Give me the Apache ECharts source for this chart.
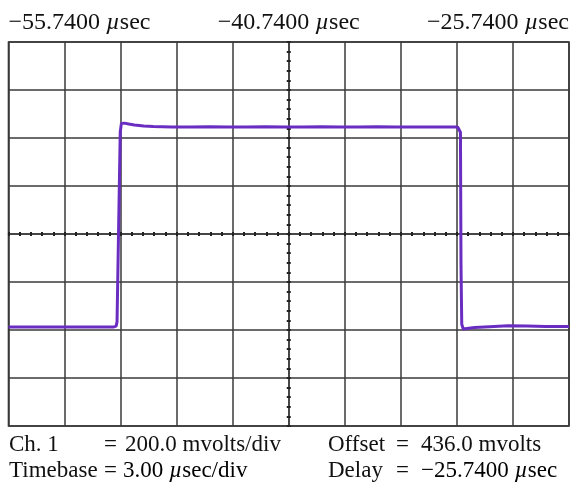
<!DOCTYPE html>
<html>
<head>
<meta charset="utf-8">
<script src="https://cdn.jsdelivr.net/npm/echarts@6/dist/echarts.min.js"></script>
<style>
html,body{margin:0;padding:0;background:#fff;}
#chart{width:573px;height:484px;}
</style>
</head>
<body>
<div id="chart"></div>
<script>
// Time (µs) and Ch. 1 voltage (mV)
var timeUs = [-55.74, -54.0, -52.0, -50.6, -50.1, -49.98, -49.93, -49.76, -49.70, -49.55, -49.3, -49.0, -48.5, -48.0, -47.0, -46.0, -45.0, -44.0, -43.0, -42.0, -41.0, -40.0, -39.0, -38.0, -37.0, -36.0, -35.0, -34.0, -33.0, -32.0, -31.7, -31.6, -31.55, -31.52, -31.48, -31.40, -31.2, -30.8, -30.0, -29.0, -28.0, -27.0, -26.0, -25.74];
var chMv   = [48, 48, 48, 48, 49, 52, 70, 860, 896, 898, 894, 890, 886, 884, 882, 882, 883, 882, 882, 883, 882, 882, 883, 882, 882, 883, 882, 882, 882, 882, 882, 880, 860, 300, 60, 40, 42, 46, 50, 54, 53, 51, 51, 51];

var xMin = -55.74, xMax = -25.74, xDiv = 3.0;       // 3.00 µsec/div
var yOffset = 436.0, yDiv = 200.0, yDivs = 4;       // 200 mV/div, offset 436 mV
var topTicks = [-55.74, -40.74, -25.74];

var serif = '"Liberation Serif", "DejaVu Serif", serif';
var fs = 24, fsB = 23;
var txtCol = '#111';
function mkRich(size){
  return {
    n: {fontFamily: serif, fontSize: size, color: txtCol},
    m: {fontFamily: serif, fontSize: size, color: txtCol, fontStyle: 'italic'}
  };
}
var rich = mkRich(fs), richB = mkRich(fsB);
function usec(v){
  var s = (v < 0 ? '\u2212' : '') + Math.abs(v).toFixed(4);
  return '{n|' + s + ' }{m|\u00b5}{n|sec}';
}

var data = timeUs.map(function(t, i){ return [t, chMv[i]]; });

var gridPos = {left: 8.5, right: 4, top: 42, bottom: 58};
var lineCol = '#3a3a3a';
var fontB = fsB + 'px ' + serif;

function txt(x, y, s, isRich){
  var st = isRich ? {text: s, rich: richB} : {text: s, font: fontB, fill: txtCol};
  return {type: 'text', left: x, top: y, style: st};
}

var chart = echarts.init(document.getElementById('chart'), null, {renderer: 'canvas'});
var tickStyle = {color: '#222', width: 2};
var option = {
  animation: false,
  backgroundColor: '#fff',
  grid: [
    Object.assign({show: true, borderColor: '#333', borderWidth: 1.6, backgroundColor: 'transparent'}, gridPos),
    Object.assign({show: false}, gridPos)
  ],
  xAxis: [
    {gridIndex: 0, type: 'value', min: xMin, max: xMax, interval: xDiv, position: 'bottom',
     axisLine: {show: false}, axisTick: {show: false}, axisLabel: {show: false},
     splitLine: {show: true, lineStyle: {color: lineCol, width: 1.5}}},
    {gridIndex: 0, type: 'value', min: xMin, max: xMax, interval: topTicks[1] - topTicks[0], position: 'top',
     axisLine: {show: false}, axisTick: {show: false}, splitLine: {show: false},
     axisLabel: {show: true, margin: 7, formatter: usec, rich: rich, alignMinLabel: 'left', alignMaxLabel: 'right',
                 showMinLabel: true, showMaxLabel: true}},
    {gridIndex: 1, type: 'value', min: -5, max: 5, interval: 1, position: 'bottom',
     axisLine: {show: true, onZero: true, lineStyle: {color: lineCol, width: 1.5}},
     axisTick: {show: true, inside: false, length: 2, lineStyle: tickStyle},
     minorTick: {show: true, splitNumber: 5, length: 2, lineStyle: tickStyle},
     axisLabel: {show: false}, splitLine: {show: false}},
    {gridIndex: 1, type: 'value', min: -5, max: 5, interval: 1, position: 'top',
     axisLine: {show: false, onZero: true},
     axisTick: {show: true, inside: false, length: 2, lineStyle: tickStyle},
     minorTick: {show: true, splitNumber: 5, length: 2, lineStyle: tickStyle},
     axisLabel: {show: false}, splitLine: {show: false}}
  ],
  yAxis: [
    {gridIndex: 0, type: 'value', min: yOffset - yDivs * yDiv, max: yOffset + yDivs * yDiv, interval: yDiv,
     axisLine: {show: false}, axisTick: {show: false}, axisLabel: {show: false},
     splitLine: {show: true, lineStyle: {color: lineCol, width: 1.5}}},
    {gridIndex: 1, type: 'value', min: -4, max: 4, interval: 1, position: 'left',
     axisLine: {show: true, onZero: true, lineStyle: {color: lineCol, width: 1.5}},
     axisTick: {show: true, inside: false, length: 2, lineStyle: tickStyle},
     minorTick: {show: true, splitNumber: 5, length: 2, lineStyle: tickStyle},
     axisLabel: {show: false}, splitLine: {show: false}},
    {gridIndex: 1, type: 'value', min: -4, max: 4, interval: 1, position: 'right',
     axisLine: {show: false, onZero: true},
     axisTick: {show: true, inside: false, length: 2, lineStyle: tickStyle},
     minorTick: {show: true, splitNumber: 5, length: 2, lineStyle: tickStyle},
     axisLabel: {show: false}, splitLine: {show: false}}
  ],
  series: [{
    type: 'line', xAxisIndex: 0, yAxisIndex: 0, data: data,
    showSymbol: false, symbol: 'none', smooth: false,
    lineStyle: {color: '#6a2dc2', width: 3}, z: 5
  }],
  graphic: [
    txt(9, 433, 'Ch. 1'),
    txt(104, 433, '='),
    txt(125, 433, '200.0 mvolts/div'),
    txt(328, 433, 'Offset'),
    txt(396, 433, '='),
    txt(421, 433, '436.0 mvolts'),
    txt(9, 459, 'Timebase'),
    txt(104, 459, '='),
    txt(123, 459, '{n|3.00 }{m|\u00b5}{n|sec/div}', true),
    txt(328, 459, 'Delay'),
    txt(396, 459, '='),
    txt(421, 459, usec(-25.74), true)
  ]
};
chart.setOption(option);
</script>
</body>
</html>
